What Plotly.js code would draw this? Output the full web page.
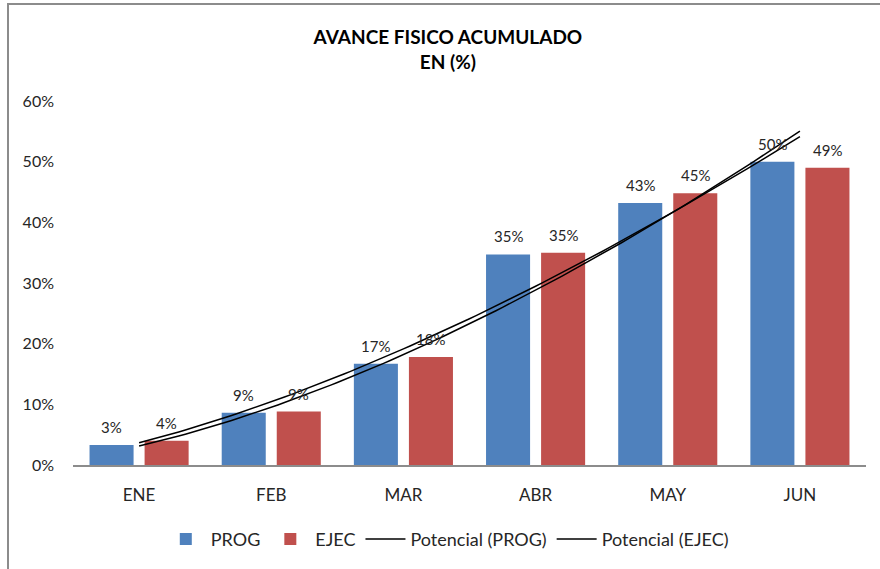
<!DOCTYPE html>
<html>
<head>
<meta charset="utf-8">
<script src="https://cdn.plot.ly/plotly-3.0.1.min.js"></script>
<style>
  html, body { margin: 0; padding: 0; background: #fff; overflow: hidden; }
  #chart { width: 880px; height: 569px; }
  #frame { position: absolute; left: 7px; top: 3px; width: 900px; height: 600px;
           border-left: 2px solid #8c8c8c; border-top: 2px solid #8c8c8c; pointer-events: none; }
</style>
</head>
<body>
<div id="chart"></div>
<div id="frame"></div>
<script>
const months = ["ENE", "FEB", "MAR", "ABR", "MAY", "JUN"];
const prog = [0.033, 0.086, 0.167, 0.347, 0.432, 0.500];
const ejec = [0.040, 0.088, 0.178, 0.350, 0.448, 0.490];

// Excel-style power trendline (least squares in log-log space)
function powerFit(vals) {
  const n = vals.length;
  const lx = vals.map((_, i) => Math.log(i + 1));
  const ly = vals.map(v => Math.log(v));
  const mx = lx.reduce((a, b) => a + b, 0) / n;
  const my = ly.reduce((a, b) => a + b, 0) / n;
  let sxy = 0, sxx = 0;
  for (let i = 0; i < n; i++) { sxy += (lx[i] - mx) * (ly[i] - my); sxx += (lx[i] - mx) ** 2; }
  const b = sxy / sxx;
  const a = Math.exp(my - b * mx);
  const xs = [], ys = [];
  for (let k = 0; k <= 100; k++) {
    const x = 1 + 5 * k / 100;
    xs.push(x); ys.push(a * Math.pow(x, b));
  }
  return { xs, ys };
}
const tp = powerFit(prog);
const te = powerFit(ejec);

const font = "Lato, 'Open Sans', sans-serif";
const bargap = 0.167;
const halfSlot = (1 - bargap) / 4; // centre offset of each bar in a 2-bar group

const data = [
  { type: "bar", name: "PROG", x: months, y: prog, marker: { color: "#4F81BD" } },
  { type: "bar", name: "EJEC", x: months, y: ejec, marker: { color: "#C0504D" } },
  { type: "scatter", mode: "lines", name: "Potencial (PROG)", x: tp.xs, y: tp.ys, xaxis: "x2",
    line: { color: "#000", width: 1.5 } },
  { type: "scatter", mode: "lines", name: "Potencial (EJEC)", x: te.xs, y: te.ys, xaxis: "x2",
    line: { color: "#000", width: 1.5 } }
];

const annotations = [];
[[prog, -halfSlot], [ejec, halfSlot]].forEach(([vals, off]) => {
  vals.forEach((v, i) => annotations.push({
    xref: "x2", yref: "y", x: i + 1 + off, y: v, yanchor: "bottom", yshift: 7,
    text: Math.round(v * 100) + "%", showarrow: false,
    font: { size: 15, color: "#262626", family: font }
  }));
});

const layout = {
  width: 880, height: 569,
  margin: { l: 73, r: 14, t: 101, b: 103 },
  paper_bgcolor: "#fff", plot_bgcolor: "#fff",
  font: { family: font, color: "#262626" },
  title: { text: "<b>AVANCE FISICO ACUMULADO<br>EN (%)</b>", x: 0.509, xref: "container",
           y: 0.923, yref: "container", yanchor: "top",
           font: { size: 19, family: font, color: "#000" } },
  barmode: "group", bargap: bargap, bargroupgap: 0.2,
  xaxis: { type: "category", range: [-0.5, 5.5], showline: true, linecolor: "#8c8c8c", linewidth: 1.5,
           ticks: "", ticklabelstandoff: 14, tickfont: { size: 17, color: "#262626" },
           showgrid: false, zeroline: false, fixedrange: true },
  xaxis2: { overlaying: "x", range: [0.5, 6.5], visible: false, fixedrange: true },
  yaxis: { range: [0, 0.6], dtick: 0.1, tickformat: ".0%", showgrid: false, zeroline: false,
           showline: false, ticks: "", ticklabelstandoff: 18, tickfont: { size: 16, color: "#262626" },
           fixedrange: true },
  annotations: annotations,
  showlegend: true,
  legend: { orientation: "h", x: 0.472, xanchor: "center", y: -0.15, yanchor: "top",
            font: { size: 18, color: "#262626", family: font }, itemwidth: 40 }
};

Plotly.newPlot("chart", data, layout, { displayModeBar: false, staticPlot: true });
</script>
</body>
</html>
